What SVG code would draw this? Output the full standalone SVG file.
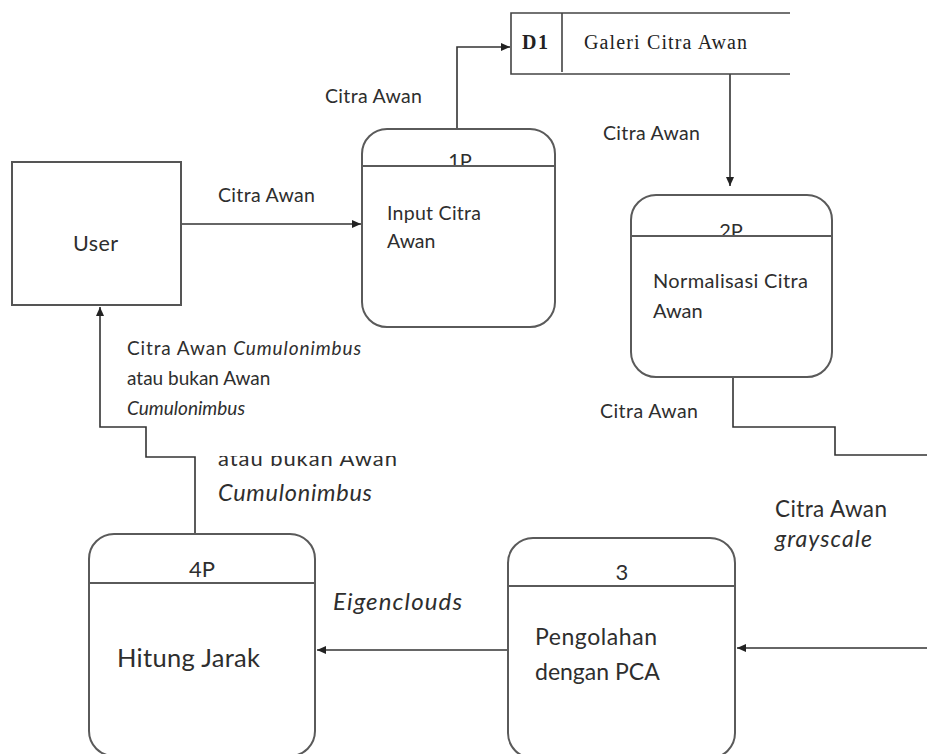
<svg xmlns="http://www.w3.org/2000/svg" width="927" height="754" viewBox="0 0 927 754">
<style>
.t{font-family:Lato,"Open Sans","Liberation Sans",sans-serif;fill:#2e2e2e}
.i{font-style:italic}
.s{font-family:"Liberation Serif","Times New Roman",serif;fill:#222}
.box{fill:#fff;stroke:#5a5a5a;stroke-width:2}
.hd{stroke:#5a5a5a;stroke-width:2}
.ln{fill:none;stroke:#333;stroke-width:1.6}
.st{fill:none;stroke:#444;stroke-width:1.6}
</style>
<defs>
<marker id="ah" markerUnits="userSpaceOnUse" markerWidth="10" markerHeight="10" refX="9" refY="4.5" orient="auto">
<path d="M0,0.5 L9,4.5 L0,8.5 z" fill="#222"/>
</marker>
<clipPath id="c1"><rect x="362" y="130" width="193" height="36"/></clipPath>
<clipPath id="c2"><rect x="631" y="196" width="201" height="40"/></clipPath>
<clipPath id="c3"><rect x="200" y="456" width="300" height="60"/></clipPath>
</defs>
<rect width="927" height="754" fill="#fff"/>

<g id="connectors">
<path class="ln" d="M181,224 H361" marker-end="url(#ah)"/>
<path class="ln" d="M457,129 V47 H510" marker-end="url(#ah)"/>
<path class="ln" d="M730,74 V186" marker-end="url(#ah)"/>
<path class="ln" d="M733,377 V427 H835 V455 H927"/>
<path class="ln" d="M927,648 H737" marker-end="url(#ah)"/>
<path class="ln" d="M508,650 H317" marker-end="url(#ah)"/>
<path class="ln" d="M195,534 V457 H146 V427 H100 V307" marker-end="url(#ah)" stroke-width="2.2"/>
</g>

<g id="labels">
<text class="t" x="218" y="202" font-size="19.5" textLength="97">Citra Awan</text>
<text class="t" x="325" y="103" font-size="19.5" textLength="97">Citra Awan</text>
<text class="t" x="603" y="140" font-size="19.5" textLength="97">Citra Awan</text>
<text class="t" x="600" y="418" font-size="19.5" textLength="98">Citra Awan</text>
<text class="t" x="775" y="517" font-size="22.5" textLength="112">Citra Awan</text>
<text class="t i" x="775" y="547" font-size="23" textLength="97">grayscale</text>
<text class="t i" x="333" y="610" font-size="24" textLength="129">Eigenclouds</text>
<text class="t" x="127" y="355" font-size="19" textLength="234">Citra Awan <tspan class="i">Cumulonimbus</tspan></text>
<text class="t" x="127" y="385" font-size="19">atau bukan Awan</text>
<text class="t i" x="127" y="415" font-size="19">Cumulonimbus</text>
<g clip-path="url(#c3)">
<text class="t" x="218" y="466" font-size="22" textLength="179">atau bukan Awan</text>
</g>
<text class="t i" x="218" y="501" font-size="23.5" textLength="154">Cumulonimbus</text>
</g>

<g id="user">
<rect x="12" y="162" width="169" height="143" fill="#fff" stroke="#555" stroke-width="2"/>
<text class="t" x="73" y="251" font-size="21.5" textLength="45">User</text>
</g>

<g id="p1">
<rect class="box" x="362" y="129" width="193" height="198" rx="25"/>
<g clip-path="url(#c1)"><text class="t" x="460" y="168" font-size="20" text-anchor="middle">1P</text></g>
<line class="hd" x1="362" y1="166" x2="555" y2="166"/>
<text class="t" x="387" y="220" font-size="19.5" textLength="94">Input Citra</text>
<text class="t" x="387" y="248" font-size="19.5">Awan</text>
</g>

<g id="d1">
<path class="st" d="M790,13 H511 V74 H790 M562,13 V72"/>
<text class="s" x="522" y="49" font-size="20" font-weight="bold" textLength="26">D1</text>
<text class="s" x="584" y="49" font-size="20" textLength="163">Galeri Citra Awan</text>
</g>

<g id="p2">
<rect class="box" x="631" y="195" width="201" height="182" rx="25"/>
<g clip-path="url(#c2)"><text class="t" x="731" y="238" font-size="20" text-anchor="middle">2P</text></g>
<line class="hd" x1="631" y1="236" x2="832" y2="236"/>
<text class="t" x="653" y="288" font-size="20" textLength="155">Normalisasi Citra</text>
<text class="t" x="653" y="318" font-size="20">Awan</text>
</g>

<g id="p3">
<rect class="box" x="508" y="538" width="227" height="220" rx="25"/>
<line class="hd" x1="508" y1="586" x2="735" y2="586"/>
<text class="t" x="622" y="580" font-size="22" text-anchor="middle">3</text>
<text class="t" x="535" y="645" font-size="23" textLength="122">Pengolahan</text>
<text class="t" x="535" y="680" font-size="23">dengan PCA</text>
</g>

<g id="p4">
<rect class="box" x="89" y="534" width="226" height="222" rx="25"/>
<line class="hd" x1="89" y1="583" x2="315" y2="583"/>
<text class="t" x="202" y="577" font-size="22" text-anchor="middle">4P</text>
<text class="t" x="117" y="667" font-size="25.5" textLength="143">Hitung Jarak</text>
</g>
</svg>
